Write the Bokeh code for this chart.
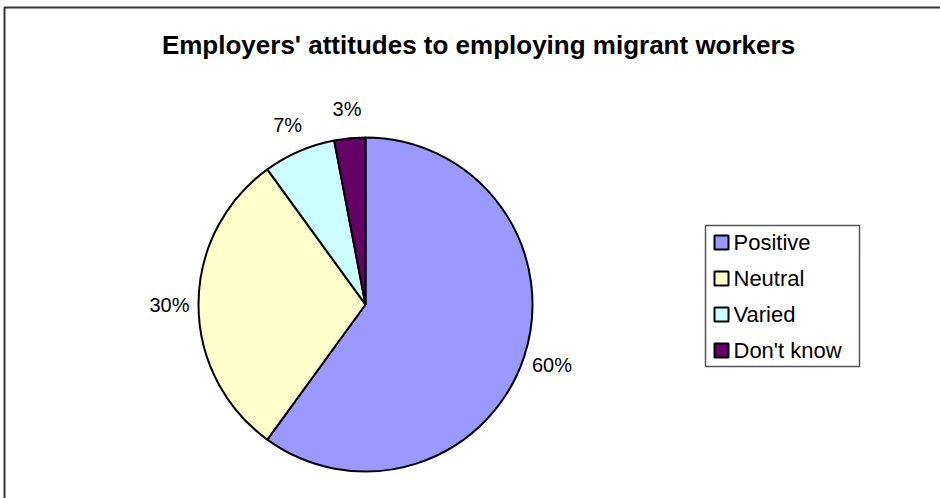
import math
from bokeh.plotting import figure
from bokeh.models import ColumnDataSource, BoxAnnotation, Range1d
from bokeh.core.properties import value
from bokeh.embed import file_html
from bokeh.resources import INLINE

# ---- data ----
categories = ["Positive", "Neutral", "Varied", "Don't know"]
shares = [60, 30, 7, 3]
labels = ["60%", "30%", "7%", "3%"]
colors = ["#9999FF", "#FFFFCC", "#CCFFFF", "#660066"]
title_text = "Employers' attitudes to employing migrant workers"

W, H = 940, 498
FONT = "Liberation Sans"

p = figure(width=W, height=H, output_backend="svg", toolbar_location=None,
           x_range=Range1d(0, W), y_range=Range1d(0, H), min_border=0)
p.axis.visible = False
p.grid.visible = False
p.outline_line_color = None
p.background_fill_color = "white"

def Y(y):
    return H - y

# chart border (left + top visible)
p.add_layout(BoxAnnotation(left=4, right=W + 20, top=Y(7), bottom=-20,
                           fill_alpha=0, line_color="#333333", line_alpha=1, line_width=2))

# title
p.text(x=[478], y=[Y(44)], text=[title_text], text_font=value(FONT),
       text_font_style="bold", text_font_size="26px", text_align="center",
       text_baseline="middle", text_color="black")

# pie
cx, cy, r = 365, 304, 167
total = sum(shares)
starts, ends, mids = [], [], []
acc = 0.0
for s in shares:
    a0 = acc / total
    acc += s
    a1 = acc / total
    starts.append(math.pi / 2 - a1 * 2 * math.pi)
    ends.append(math.pi / 2 - a0 * 2 * math.pi)
    mids.append(math.pi / 2 - (a0 + a1) / 2 * 2 * math.pi)

src = ColumnDataSource(dict(start=starts, end=ends, color=colors))
p.wedge(x=cx, y=Y(cy), radius=r, start_angle="start", end_angle="end",
        fill_color="color", line_color="black", line_width=2, source=src)

# data labels
rl = 196
lx = [cx + rl * math.cos(m) for m in mids]
ly = [Y(cy) + rl * math.sin(m) for m in mids]
p.text(x=lx, y=ly, text=labels, text_font=value(FONT), text_font_size="20px",
       text_align="center", text_baseline="middle", text_color="black")

# legend
lb_left, lb_right, lb_top, lb_bottom = 705, 859, 225, 366
p.quad(left=[lb_left], right=[lb_right], top=[Y(lb_top)], bottom=[Y(lb_bottom)],
       fill_color="white", line_color="#555555", line_width=1.5)
row0, step = 242, 36
ly_leg = [Y(row0 + i * step) for i in range(len(categories))]
p.scatter(x=[721] * len(categories), y=ly_leg, marker="square", size=14,
          fill_color=colors, line_color="black", line_width=2)
p.text(x=[733] * len(categories), y=ly_leg, text=categories, text_font=value(FONT),
       text_font_size="22px", text_align="left", text_baseline="middle", text_color="black")

open("out.html", "w").write(file_html(p, INLINE))
